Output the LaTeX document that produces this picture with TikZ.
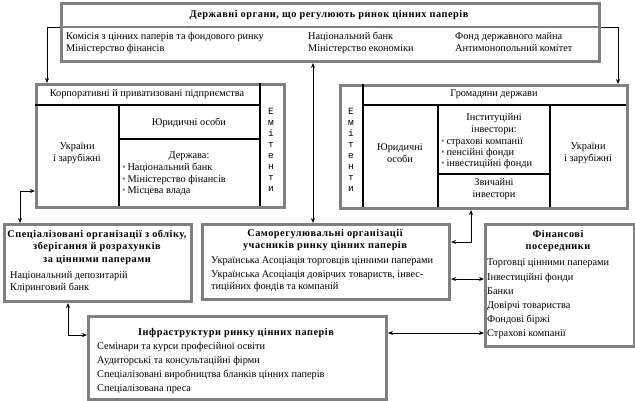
\documentclass[tikz,border=0pt]{standalone}
\usepackage{fontspec}
\setmainfont{Liberation Serif}
\newfontfamily\emfont{Liberation Mono}
\usetikzlibrary{arrows.meta, positioning}
\definecolor{bxgray}{HTML}{808080}
\newcommand{\itm}{{\color{bxgray}\textbullet}\,}

\begin{document}
\begin{tikzpicture}[x=1pt, y=-1pt,
    every node/.style={font=\fontsize{10.3}{12}\selectfont, inner sep=0pt},
    box/.style={draw=bxgray, line width=3pt, anchor=north west},
    sep/.style={line width=2pt},
    ttl/.style={font=\fontsize{10.3}{12.5}\selectfont\bfseries\addfontfeatures{LetterSpace=5}, align=center},
    lbl/.style={anchor=west, text height=7pt, text depth=2pt},
    mid/.style={align=center},
    emit/.style={font=\emfont\fontsize{9.5}{10.9}\selectfont, align=center},
    arr/.style={-{Stealth[length=5pt,width=4pt]}, line width=0.8pt},
    arr2/.style={{Stealth[length=5pt,width=4pt]}-{Stealth[length=5pt,width=4pt]}, line width=0.8pt}
  ]
    \useasboundingbox (0,0) rectangle (635,400);

    % boxes
    \node[box, minimum width=538pt, minimum height=58pt] (gov) at (60,2) {};
    \node[box, minimum width=248pt, minimum height=123pt] (corp) at (35,83) {};
    \node[box, minimum width=287pt, minimum height=123pt] (cit) at (339,84) {};
    \node[box, minimum width=187pt, minimum height=77pt] (spec) at (3,223) {};
    \node[box, minimum width=247pt, minimum height=75pt] (sro) at (201,223) {};
    \node[box, minimum width=298pt, minimum height=83pt] (infra) at (87,315) {};
    \node[box, minimum width=149pt, minimum height=122pt] (fin) at (484,223) {};

    % state bodies
    \coordinate (gsep) at (0,27);
    \draw[draw=bxgray, line width=2pt] (gov.west |- gsep) -- (gov.east |- gsep);
    \node[ttl] (govt) at (329,15) {Державні органи, що регулюють ринок цінних паперів};
    \node[lbl] (g1) at (66,37) {Комісія з цінних паперів та фондового ринку};
    \node[lbl] (g2) at (66,49) {Міністерство фінансів};
    \node[lbl] (g3) at (308,37) {Національний банк};
    \node[lbl] (g4) at (308,49) {Міністерство економіки};
    \node[lbl] (g5) at (455,37) {Фонд державного майна};
    \node[lbl] (g6) at (455,49) {Антимонопольний комітет};

    % corporate issuers
    \draw[sep] (35,105) -- (260,105);
    \draw[sep] (260,83) -- (260,206);
    \draw[sep] (119,105) -- (119,206);
    \draw[sep] (119,139) -- (260,139);
    \node[mid] (corph) at (147,94) {Корпоративні й приватизовані підприємства};
    \node[mid] (corpu) at (77,153) {України\\і зарубіжні};
    \node[mid] (corpj) at (189,123) {Юридичні особи};
    \node[mid] (corps) at (189,156) {Держава:};
    \node[lbl] (cs1) at (122,168) {\itm Національний банк};
    \node[lbl] (cs2) at (122,179.5) {\itm Міністерство фінансів};
    \node[lbl] (cs3) at (122,191) {\itm Місцева влада};
    \node[emit] (corpe) at (271,150) {Е\\м\\і\\т\\е\\н\\т\\и};

    % citizens
    \draw[sep] (363,84) -- (363,207);
    \draw[sep] (363,105) -- (626,105);
    \draw[sep] (438,105) -- (438,207);
    \draw[sep] (550,105) -- (550,207);
    \draw[sep] (438,174) -- (550,174);
    \node[emit] (cite) at (351,150) {Е\\м\\і\\т\\е\\н\\т\\и};
    \node[mid] (cith) at (494,94) {Громадяни держави};
    \node[mid] (citj) at (400,153) {Юридичні\\особи};
    \node[mid] (citi) at (494,124) {Інституційні\\інвестори:};
    \node[lbl] (ci1) at (441,142) {\itm страхові компанії};
    \node[lbl] (ci2) at (441,153) {\itm пенсійні фонди};
    \node[lbl] (ci3) at (441,164) {\itm інвестиційні фонди};
    \node[mid] (citz) at (494,189) {Звичайні\\інвестори};
    \node[mid] (citu) at (588,153) {України\\і зарубіжні};

    % specialised organisations
    \node[ttl] (spect) at (97,247) {Спеціалізовані організації з обліку,\\зберігання й розрахунків\\за цінними паперами};
    \node[lbl] (sp1) at (10,276) {Національний депозитарій};
    \node[lbl] (sp2) at (10,288) {Кліринговий банк};

    % self-regulatory organisations
    \node[ttl] (srot) at (325,240) {Саморегулювальні організації\\учасників ринку цінних паперів};
    \node[lbl] (sr1) at (211,261) {Українська Асоціація торговців цінними паперами};
    \node[lbl] (sr2) at (211,275) {Українська Асоціація довірчих товариств, інвес-};
    \node[lbl] (sr3) at (211,287) {тиційних фондів та компаній};

    % infrastructure
    \node[ttl] (infrat) at (236,333) {Інфраструктури ринку цінних паперів};
    \node[lbl] (in1) at (97,347) {Семінари та курси професійної освіти};
    \node[lbl] (in2) at (97,361) {Аудиторські та консультаційні фірми};
    \node[lbl] (in3) at (97,375) {Спеціалізовані виробництва бланків цінних паперів};
    \node[lbl] (in4) at (97,389) {Спеціалізована преса};

    % financial intermediaries
    \node[ttl] (fint) at (558,241) {Фінансові\\посередники};
    \node[lbl] (fi1) at (487,263) {Торговці цінними паперами};
    \node[lbl] (fi2) at (487,277.5) {Інвестиційні фонди};
    \node[lbl] (fi3) at (487,292) {Банки};
    \node[lbl] (fi4) at (487,306) {Довірчі товариства};
    \node[lbl] (fi5) at (487,320) {Фондові біржі};
    \node[lbl] (fi6) at (487,334) {Страхові компанії};

    % connectors
    \coordinate (vx) at (313,0);
    \draw[arr] (gov.west |- gsep) -| ([xshift=12pt]corp.north west);
    \draw[arr] (gov.east |- gsep) -| ([xshift=-11pt]cit.north east);
    \draw[arr2] (gov.south -| vx) -- (sro.north -| vx);
    \draw[arr2] ([yshift=18pt]corp.south west) -| ([xshift=17pt]spec.north west);
    \draw[arr2] ([xshift=65pt]spec.south west) |- ([yshift=-20pt]infra.north west);
    \draw[arr2] ([yshift=-19pt]sro.north east) -| ([xshift=132pt]cit.south west);
    \draw[arr2] ([yshift=-56pt]sro.north east) -- ([yshift=-56pt]fin.north west);
    \draw[arr2] ([yshift=-18pt]infra.north east) -- ([yshift=-110pt]fin.north west);
  \end{tikzpicture}
\end{document}
